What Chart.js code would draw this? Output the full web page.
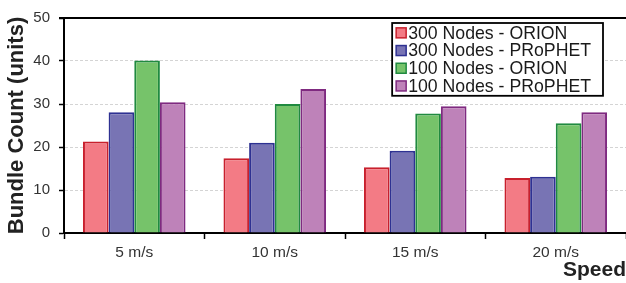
<!DOCTYPE html>
<html>
<head>
<meta charset="utf-8">
<script src="https://cdn.jsdelivr.net/npm/chart.js@4/dist/chart.umd.min.js"></script>
<style>
  html, body { margin: 0; padding: 0; background: #fff; }
  #wrap { width: 626px; height: 283px; position: relative; }
</style>
</head>
<body>
<div id="wrap"><canvas id="bundleChart"></canvas></div>
<script>
const categories = ["5 m/s", "10 m/s", "15 m/s", "20 m/s"];
const orion300 = [21.3, 17.4, 15.3, 12.8];
const prophet300 = [28.1, 21.0, 19.1, 13.1];
const orion100 = [40.1, 30.0, 27.8, 25.5];
const prophet100 = [30.4, 33.5, 29.5, 28.1];
const seriesLabels = ["300 Nodes - ORION", "300 Nodes - PRoPHET", "100 Nodes - ORION", "100 Nodes - PRoPHET"];
const yMin = 0, yMax = 50, yStep = 10;

const FONT = 'Arial, "Liberation Sans", sans-serif';
Chart.defaults.font.family = FONT;
Chart.defaults.color = "#333";

const fills = ["#f37b85", "#7874b4", "#76c36a", "#be82b9"];
const edges = ["#c8202d", "#2e3192", "#208a40", "#7f2a80"];

// top frame line (the 50 gridline is solid black in the original)
const topFrame = {
  id: "topFrame",
  afterDraw(chart) {
    const { ctx, chartArea } = chart;
    ctx.save();
    ctx.strokeStyle = "#000";
    ctx.lineWidth = 2;
    ctx.beginPath();
    ctx.moveTo(chartArea.left - 5, chartArea.top);
    ctx.lineTo(chart.width, chartArea.top);
    ctx.stroke();
    ctx.restore();
  },
};

// boxed legend in the upper right of the plot
const boxLegend = {
  id: "boxLegend",
  afterDraw(chart) {
    const { ctx, chartArea } = chart;
    const sets = chart.data.datasets;
    ctx.save();
    ctx.font = "17.7px " + FONT;
    const textW = Math.max(...sets.map((d) => ctx.measureText(d.label).width));
    const rowH = 17.7;
    const w = 3 + 12 + 2 + textW + 11;
    const h = rowH * sets.length + 2;
    const right = chartArea.right - 23;
    const left = right - w;
    const top = chartArea.top + 5;
    ctx.fillStyle = "#fff";
    ctx.fillRect(left, top, w, h);
    ctx.strokeStyle = "#000";
    ctx.lineWidth = 1.8;
    ctx.strokeRect(left, top, w, h);
    ctx.textBaseline = "middle";
    sets.forEach((d, i) => {
      const cy = top + 1 + rowH * i + rowH / 2;
      ctx.fillStyle = d.backgroundColor;
      ctx.fillRect(left + 4, cy - 5, 10, 10);
      ctx.strokeStyle = d.borderColor;
      ctx.lineWidth = 1.5;
      ctx.strokeRect(left + 4, cy - 5, 10, 10);
      ctx.fillStyle = "#1a1a1a";
      ctx.fillText(d.label, left + 16, cy + 1);
    });
    ctx.restore();
  },
};

const allSeries = [orion300, prophet300, orion100, prophet100];

new Chart(document.getElementById("bundleChart"), {
  type: "bar",
  plugins: [topFrame, boxLegend],
  data: {
    labels: categories,
    datasets: allSeries.map((values, i) => ({
      label: seriesLabels[i],
      data: values,
      backgroundColor: fills[i],
      borderColor: edges[i],
      borderWidth: 2,
      borderSkipped: "start",
      categoryPercentage: 0.73,
      barPercentage: 1,
    })),
  },
  options: {
    animation: false,
    responsive: true,
    maintainAspectRatio: false,
    layout: { padding: { top: 15, right: 0, left: 0, bottom: 0 } },
    plugins: {
      legend: { display: false },
      tooltip: { enabled: false },
    },
    scales: {
      x: {
        afterFit(scale) { scale.height = 50; },
        grid: {
          offset: true,
          drawOnChartArea: false,
          tickLength: 6,
          tickColor: "#000",
          tickWidth: 1.5,
        },
        border: { color: "#000", width: 2 },
        ticks: { font: { size: 15.5 }, color: "#333", padding: 4 },
        title: {
          display: true,
          text: "Speed",
          align: "end",
          color: "#222",
          font: { size: 21, weight: "bold" },
          padding: { top: 0, bottom: 0 },
        },
      },
      y: {
        min: yMin,
        max: yMax,
        afterFit(scale) { scale.width = 64; },
        ticks: { stepSize: yStep, font: { size: 15 }, color: "#333", padding: 9 },
        grid: {
          color: "#d4d4d4",
          lineWidth: 1,
          tickLength: 5,
          tickColor: "#000",
          tickWidth: 1.5,
          tickBorderDash: [],
        },
        border: { color: "#000", width: 2, dash: [3, 2] },
        title: {
          display: true,
          text: "Bundle Count (units)",
          color: "#222",
          font: { size: 22, weight: "bold" },
          padding: { top: 4, bottom: 0 },
        },
      },
    },
  },
});
</script>
</body>
</html>
